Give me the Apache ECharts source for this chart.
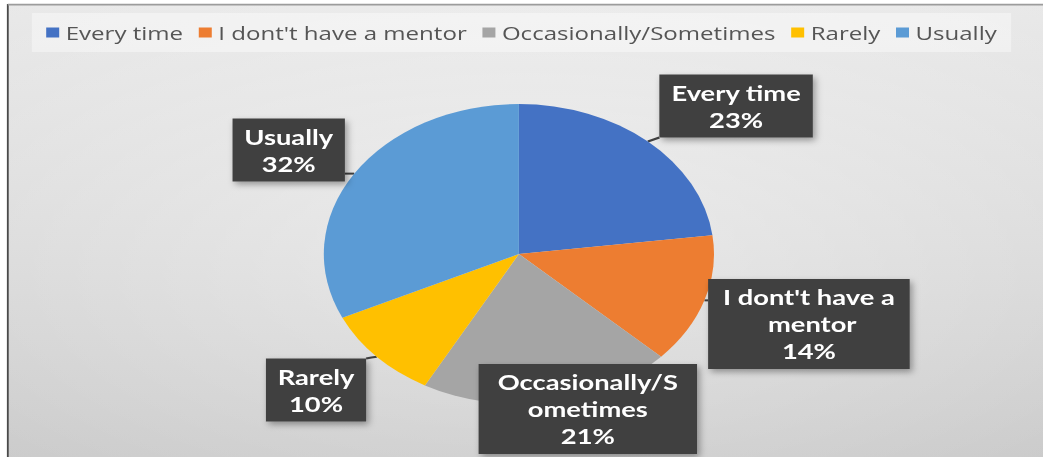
<!DOCTYPE html>
<html>
<head>
<meta charset="utf-8">
<script src="https://cdn.jsdelivr.net/npm/echarts@6/dist/echarts.min.js"></script>
<style>
  html, body { margin: 0; padding: 0; background: #ffffff; overflow: hidden; }
  #wrap { width: 1043px; height: 457px; position: relative; overflow: hidden; }
  /* the source image is an Excel chart stretched horizontally; reproduce that stretch */
  #chart { position: absolute; left: 0; top: 0; width: 802px; height: 457px;
           transform: scaleX(1.3005); transform-origin: 0 0; }
</style>
</head>
<body>
<div id="wrap"><div id="chart"></div></div>
<script>
// ---------------- data ----------------
const categories = ['Every time', "I dont't have a mentor", 'Occasionally/Sometimes', 'Rarely', 'Usually'];
const values = [23, 14, 21, 10, 32];
const colors = ['#4472C4', '#ED7D31', '#A5A5A5', '#FFC000', '#5B9BD5'];

// ---------------- layout (chart px, before the horizontal stretch) ----------------
const CX = 399, CY = 254, R = 150;
const labelCenters = [[566, 106], [622, 324], [452, 409], [243, 390], [222, 150]];
const labelWrap = {
  1: { width: 137, overflow: 'break' },
  2: { width: 150, overflow: 'breakAll' }
};

const total = values.reduce((a, b) => a + b, 0);
function midAngle(i) {
  let before = 0;
  for (let k = 0; k < i; k++) before += values[k];
  return (before + values[i] / 2) / total * Math.PI * 2;
}

const chart = echarts.init(document.getElementById('chart'), null, { renderer: 'svg' });

const option = {
  animation: false,
  backgroundColor: '#ffffff',
  graphic: [
    { type: 'rect', z: 0, silent: true,
      shape: { x: 6, y: 5, width: 796, height: 452 },
      style: { fill: new echarts.graphic.LinearGradient(0, 0, 0, 1, [
        { offset: 0, color: '#e8e8e8' }, { offset: 1, color: '#cacaca' }]) } },
    { type: 'rect', z: 0, silent: true,
      shape: { x: 6, y: 5, width: 796, height: 452 },
      style: { fill: new echarts.graphic.RadialGradient(0.5, 0.5, 0.75, [
        { offset: 0, color: 'rgba(255,255,255,0.45)' }, { offset: 1, color: 'rgba(255,255,255,0)' }]) } },
    { type: 'rect', z: 1, silent: true,
      shape: { x: 5.3, y: 4, width: 1.4, height: 453 },
      style: { fill: '#4a4a4a' } },
    { type: 'rect', z: 1, silent: true,
      shape: { x: 6, y: 3.8, width: 796, height: 1.6 },
      style: { fill: '#9c9c9c' } }
  ],
  legend: {
    data: categories,
    top: 13,
    left: 'center',
    icon: 'rect',
    itemWidth: 10,
    itemHeight: 10,
    itemGap: 12,
    selectedMode: false,
    backgroundColor: 'rgba(255,255,255,0.4)',
    padding: [10, 11],
    textStyle: { color: '#555555', fontFamily: 'Open Sans', fontSize: 18.5 }
  },
  series: [{
    type: 'pie',
    center: [CX, CY],
    radius: R,
    startAngle: 90,
    clockwise: true,
    avoidLabelOverlap: false,
    silent: true,
    emphasis: { disabled: true },
    itemStyle: { borderWidth: 0 },
    data: categories.map((name, i) => ({
      name: name,
      value: values[i],
      itemStyle: { color: colors[i] },
      label: labelWrap[i] || {}
    })),
    label: {
      show: true,
      position: 'outside',
      formatter: p => p.name + '\n' + Math.round(p.percent) + '%',
      color: '#ffffff',
      fontFamily: 'Lato',
      fontWeight: 'bold',
      fontSize: 21,
      lineHeight: 27,
      align: 'center',
      backgroundColor: '#404040',
      padding: [5, 9, 4, 9],
      shadowColor: 'rgba(0,0,0,0.35)',
      shadowBlur: 6,
      shadowOffsetX: 2,
      shadowOffsetY: 3
    },
    labelLine: { show: true, length: 5, length2: 5, smooth: false,
                 lineStyle: { color: '#404040', width: 2 } },
    labelLayout: function (params) {
      const i = params.dataIndex;
      const lx = labelCenters[i][0], ly = labelCenters[i][1];
      const w = params.labelRect.width, h = params.labelRect.height;
      const a = midAngle(i);
      const ex = CX + R * Math.sin(a), ey = CY - R * Math.cos(a);
      const bx = Math.min(Math.max(ex, lx - w / 2), lx + w / 2);
      const by = Math.min(Math.max(ey, ly - h / 2), ly + h / 2);
      return {
        x: lx, y: ly, align: 'center', verticalAlign: 'middle',
        labelLinePoints: [[ex, ey], [(ex + bx) / 2, (ey + by) / 2], [bx, by]]
      };
    }
  }]
};
chart.setOption(option);
</script>
</body>
</html>
